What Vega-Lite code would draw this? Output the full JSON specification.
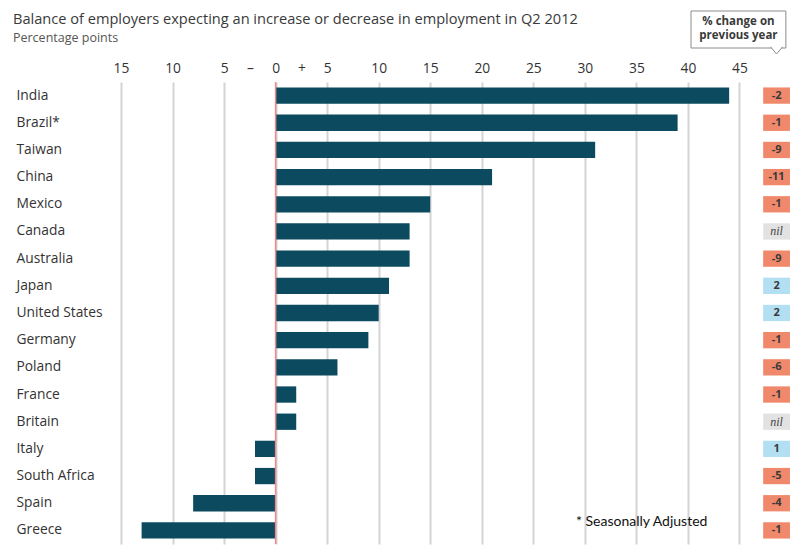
{
  "$schema": "https://vega.github.io/schema/vega-lite/v6.json",
  "padding": {"left": 12, "top": 3, "right": 0, "bottom": 0},
  "background": "white",
  "bounds": "flush",
  "spacing": 27,
  "config": {"view": {"stroke": null}, "font": "Open Sans"},
  "datasets": {
    "callout": [
      {"kind": "title", "x": -25.48, "y": 16.5, "t": "Balance of employers expecting an increase or decrease in employment in Q2 2012"},
      {"kind": "sub", "x": -25.48, "y": 35, "t": "Percentage points"},
      {"kind": "box", "x": 40.3, "x2": 49.5, "y": 8, "y2": 45},
      {"kind": "ptr", "x": 48.6, "y": 48},
      {"kind": "lab", "x": 44.9, "y": 18.5, "t": "% change on"},
      {"kind": "lab", "x": 44.9, "y": 32.5, "t": "previous year"}
    ],
    "emp": [
      {"country": "India", "value": 44, "change": "-2", "sign": "neg"},
      {"country": "Brazil*", "value": 39, "change": "-1", "sign": "neg"},
      {"country": "Taiwan", "value": 31, "change": "-9", "sign": "neg"},
      {"country": "China", "value": 21, "change": "-11", "sign": "neg"},
      {"country": "Mexico", "value": 15, "change": "-1", "sign": "neg"},
      {"country": "Canada", "value": 13, "change": "nil", "sign": "nil"},
      {"country": "Australia", "value": 13, "change": "-9", "sign": "neg"},
      {"country": "Japan", "value": 11, "change": "2", "sign": "pos"},
      {"country": "United States", "value": 10, "change": "2", "sign": "pos"},
      {"country": "Germany", "value": 9, "change": "-1", "sign": "neg"},
      {"country": "Poland", "value": 6, "change": "-6", "sign": "neg"},
      {"country": "France", "value": 2, "change": "-1", "sign": "neg"},
      {"country": "Britain", "value": 2, "change": "nil", "sign": "nil"},
      {"country": "Italy", "value": -2, "change": "1", "sign": "pos"},
      {"country": "South Africa", "value": -2, "change": "-5", "sign": "neg"},
      {"country": "Spain", "value": -8, "change": "-4", "sign": "neg"},
      {"country": "Greece", "value": -13, "change": "-1", "sign": "neg"}
    ]
  },
  "vconcat": [
    {
      "width": 670,
      "height": 52,
      "data": {"name": "callout"},
      "encoding": {
        "x": {"field": "x", "type": "quantitative", "scale": {"domain": [-15, 50], "nice": false, "zero": false}, "axis": null},
        "y": {"field": "y", "type": "quantitative", "scale": {"domain": [0, 52], "reverse": true, "nice": false, "zero": false}, "axis": null}
      },
      "layer": [
        {
          "transform": [{"filter": "datum.kind == 'box'"}],
          "mark": {"type": "rect", "fill": "white", "stroke": "#8c8c8c", "strokeWidth": 1},
          "encoding": {"x2": {"field": "x2"}, "y2": {"field": "y2"}}
        },
        {
          "transform": [{"filter": "datum.kind == 'ptr'"}],
          "mark": {"type": "point", "shape": "M-1,-0.7L0,0.5L1,-0.7", "size": 144, "filled": true, "fill": "white", "stroke": "#8c8c8c", "strokeWidth": 1, "opacity": 1}
        },
        {
          "transform": [{"filter": "datum.kind == 'title'"}],
          "mark": {"type": "text", "align": "left", "baseline": "middle", "fontSize": 14.6, "color": "#3a3a3a"},
          "encoding": {"text": {"field": "t"}}
        },
        {
          "transform": [{"filter": "datum.kind == 'sub'"}],
          "mark": {"type": "text", "align": "left", "baseline": "middle", "fontSize": 12.5, "color": "#555555"},
          "encoding": {"text": {"field": "t"}}
        },
        {
          "transform": [{"filter": "datum.kind == 'lab'"}],
          "mark": {"type": "text", "align": "center", "baseline": "middle", "fontSize": 11.5, "fontWeight": "bold", "color": "#3a3a3a"},
          "encoding": {"text": {"field": "t"}}
        }
      ]
    },
    {
      "width": 670,
      "height": 462,
      "data": {"name": "emp"},
      "layer": [
        {
          "mark": {"type": "bar", "color": "#0b4a5f"},
          "encoding": {
            "y": {"field": "country", "type": "nominal", "sort": null,
              "scale": {"domain": ["India", "Brazil*", "Taiwan", "China", "Mexico", "Canada", "Australia", "Japan", "United States", "Germany", "Poland", "France", "Britain", "Italy", "South Africa", "Spain", "Greece"], "paddingInner": 0.4, "paddingOuter": 0.2},
              "axis": {"title": null, "domain": false, "ticks": false, "labelAlign": "left", "labelPadding": 105, "labelFontSize": 13.8, "labelColor": "#333333", "labelFont": "Open Sans"}},
            "x": {"field": "value", "type": "quantitative",
              "scale": {"domain": [-15, 50], "nice": false, "zero": false},
              "axis": {"orient": "top", "title": null,
                "values": [-15, -10, -5, -2.5, 0, 2.5, 5, 10, 15, 20, 25, 30, 35, 40, 45],
                "labelExpr": "datum.value == -2.5 ? '–' : datum.value == 2.5 ? '+' : format(abs(datum.value), 'd')",
                "domain": false, "ticks": false, "labelPadding": 7, "labelFontSize": 13.8, "labelColor": "#333333", "labelFont": "Open Sans", "labelOverlap": false, "labelFlush": false,
                "grid": true, "gridColor": "#d4d4d4", "gridWidth": 2,
                "gridOpacity": {"condition": {"test": "abs(datum.value) == 2.5", "value": 0}, "value": 1}}}
          }
        },
        {
          "data": {"values": [{}]},
          "mark": {"type": "rule", "color": "#f08a8a", "strokeWidth": 1.5},
          "encoding": {"x": {"datum": 0}}
        },
        {
          "mark": {"type": "bar"},
          "encoding": {
            "y": {"field": "country", "type": "nominal", "sort": null},
            "x": {"datum": 47.3},
            "x2": {"datum": 49.9},
            "color": {"field": "sign", "type": "nominal", "scale": {"domain": ["neg", "pos", "nil"], "range": ["#f0896b", "#b3dff3", "#e2e2e2"]}, "legend": null}
          }
        },
        {
          "transform": [{"filter": "datum.sign != 'nil'"}],
          "mark": {"type": "text", "align": "center", "baseline": "middle", "fontSize": 11, "fontWeight": "bold", "color": "#3a3a3a"},
          "encoding": {
            "y": {"field": "country", "type": "nominal", "sort": null},
            "x": {"datum": 48.6},
            "text": {"field": "change"}
          }
        },
        {
          "transform": [{"filter": "datum.sign == 'nil'"}],
          "mark": {"type": "text", "align": "center", "baseline": "middle", "fontSize": 12, "fontStyle": "italic", "font": "Liberation Serif", "color": "#444444"},
          "encoding": {
            "y": {"field": "country", "type": "nominal", "sort": null},
            "x": {"datum": 48.6},
            "text": {"field": "change"}
          }
        },
        {
          "data": {"values": [{"country": "Greece", "t": "* Seasonally Adjusted"}]},
          "mark": {"type": "text", "align": "left", "baseline": "middle", "fontSize": 14, "font": "Lato", "color": "#111111"},
          "encoding": {
            "y": {"field": "country", "type": "nominal", "sort": null, "bandPosition": 0},
            "x": {"datum": 29.14},
            "text": {"field": "t"}
          }
        }
      ]
    }
  ]
}
